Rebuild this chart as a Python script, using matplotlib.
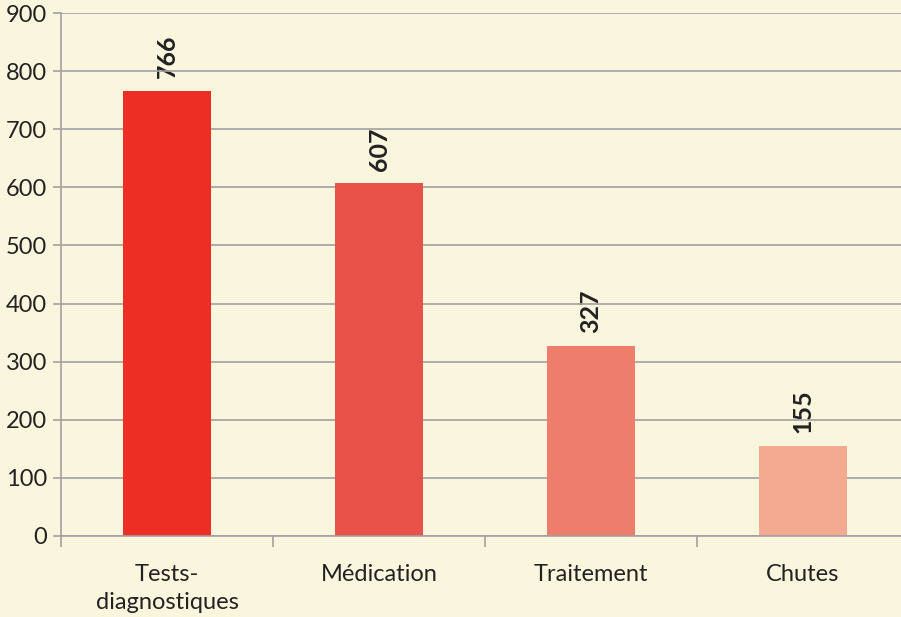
import matplotlib
matplotlib.use("Agg")
import matplotlib.pyplot as plt

categories = ["Tests-\ndiagnostiques", "Médication", "Traitement", "Chutes"]
values = [766, 607, 327, 155]
colors = ["#EE2D24", "#E85248", "#EE7D6B", "#F2AA90"]
yticks = [0, 100, 200, 300, 400, 500, 600, 700, 800, 900]

bg = "#FAF6DE"
plt.rcParams['font.family'] = ['Lato', 'DejaVu Sans']

fig = plt.figure(figsize=(9.01, 6.17), dpi=100, facecolor=bg)
ax = fig.add_axes([0.0677, 0.1313, 0.9412, 0.8476])
ax.set_facecolor(bg)

x = list(range(len(categories)))
ax.bar(x, values, width=0.415, color=colors, zorder=3)

for xi, v in zip(x, values):
    ax.annotate(str(v), (xi, v), xytext=(0, 9), textcoords="offset points",
                rotation=90, ha="center", va="bottom", fontsize=18,
                fontweight="bold", color="#222222", zorder=1)

ax.set_xlim(-0.5, 3.5)
ax.set_ylim(0, 900)
ax.set_yticks(yticks)
ax.set_yticklabels([str(t) for t in yticks], fontsize=17, color="#222222")
ax.yaxis.grid(True, color="#A0A0A0", linewidth=1.2, zorder=2)

ax.set_xticks(x)
ax.set_xticklabels(categories, fontsize=17, color="#222222", linespacing=1.45)
ax.tick_params(axis="x", length=0, pad=20)
ax.set_xticks([-0.5, 0.5, 1.5, 2.5], minor=True)
ax.tick_params(axis="x", which="minor", length=8, color="#A0A0A0", width=1.2)
ax.tick_params(axis="y", length=6, color="#A0A0A0", width=1.2, pad=4)

for s in ["top", "right"]:
    ax.spines[s].set_visible(False)
ax.spines["left"].set_color("#A0A0A0")
ax.spines["bottom"].set_color("#A0A0A0")
ax.spines["left"].set_linewidth(1.2)
ax.spines["bottom"].set_linewidth(1.2)
ax.spines["bottom"].set_zorder(4)

fig.savefig("out.png", dpi=100, facecolor=bg)
